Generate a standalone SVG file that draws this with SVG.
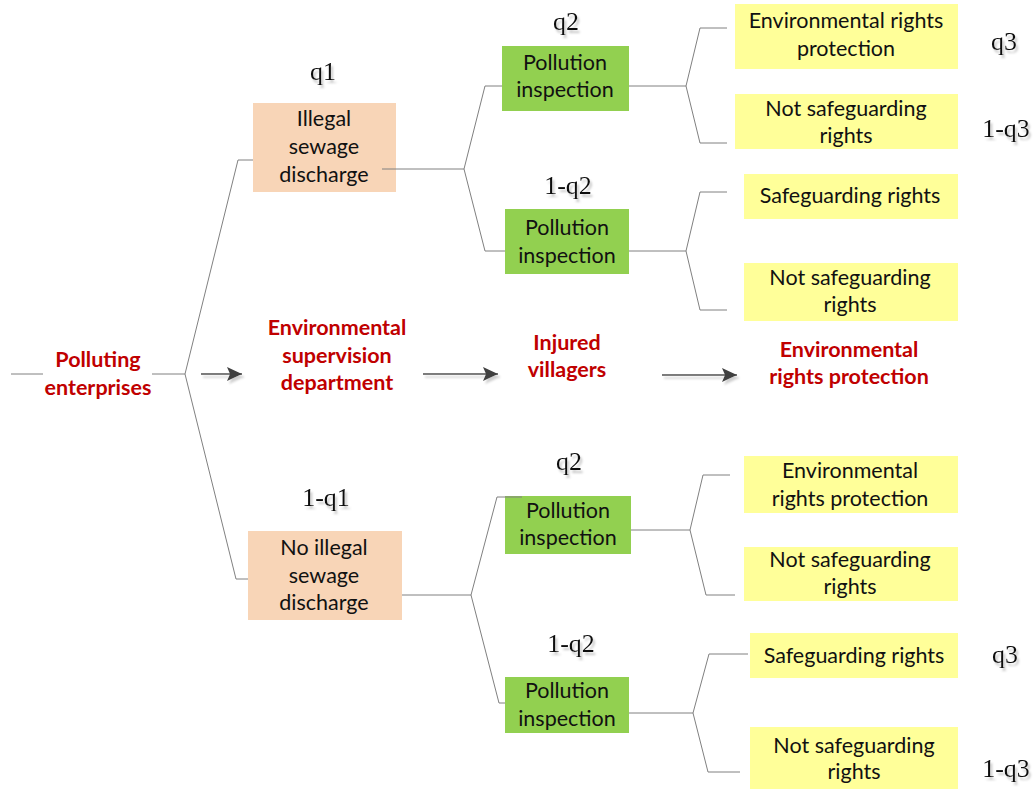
<svg xmlns="http://www.w3.org/2000/svg" width="1033" height="790" viewBox="0 0 1033 790">
<defs>
<style>
.box-o{fill:#F8D5B7}
.box-g{fill:#92D050}
.box-y{fill:#FFFF99}
.t{font-family:Lato,"Liberation Sans",sans-serif;font-size:21.5px;fill:#111;text-anchor:middle}
.r{font-family:Lato,"Liberation Sans",sans-serif;font-size:21.5px;font-weight:bold;fill:#C00000;text-anchor:middle}
.p{font-family:"Liberation Serif","Times New Roman",serif;font-size:26px;fill:#111;text-anchor:middle;filter:url(#sh)}
.c{fill:none;stroke:#808080;stroke-width:1}
.a{fill:none;stroke:#505050;stroke-width:1.3;marker-end:url(#ah)}
</style>
<filter id="sh" x="-20%" y="-20%" width="150%" height="160%">
<feDropShadow dx="2" dy="3" stdDeviation="0.8" flood-color="#c8c8c8" flood-opacity="1"/>
</filter>
<filter id="ash" filterUnits="userSpaceOnUse" x="0" y="0" width="1033" height="790">
<feDropShadow dx="2" dy="3" stdDeviation="1" flood-color="#cfcfcf" flood-opacity="1"/>
</filter>
<marker id="ah" markerWidth="16" markerHeight="14" refX="15" refY="7" orient="auto" markerUnits="userSpaceOnUse">
<path d="M0,0 L15,7 L0,14 L3,7 Z" fill="#404040"/>
</marker>
</defs>
<rect width="1033" height="790" fill="#fff"/>

<g id="root">
<text class="r" x="98" y="367">Polluting</text>
<text class="r" x="98" y="395">enterprises</text>
</g>

<g id="illegal">
<rect class="box-o" x="253" y="103" width="143" height="89"/>
<text class="t" x="324" y="126">Illegal</text>
<text class="t" x="324" y="154">sewage</text>
<text class="t" x="324" y="182">discharge</text>
</g>
<text class="p" x="323" y="80">q1</text>

<g id="noillegal">
<rect class="box-o" x="248" y="531" width="154" height="89"/>
<text class="t" x="324" y="555">No illegal</text>
<text class="t" x="324" y="583">sewage</text>
<text class="t" x="324" y="610">discharge</text>
</g>
<text class="p" x="326" y="506">1-q1</text>

<g id="insp1">
<rect class="box-g" x="502" y="46" width="127" height="65"/>
<text class="t" x="565" y="70">Pollution</text>
<text class="t" x="565" y="97">inspection</text>
</g>
<text class="p" x="566" y="30">q2</text>

<g id="insp2">
<rect class="box-g" x="505" y="209" width="124" height="65"/>
<text class="t" x="567" y="235">Pollution</text>
<text class="t" x="567" y="263">inspection</text>
</g>
<text class="p" x="568" y="194">1-q2</text>

<g id="insp3">
<rect class="box-g" x="505" y="496" width="126" height="58"/>
<text class="t" x="568" y="518">Pollution</text>
<text class="t" x="568" y="545">inspection</text>
</g>
<text class="p" x="569" y="470">q2</text>

<g id="insp4">
<rect class="box-g" x="505" y="677" width="124" height="56"/>
<text class="t" x="567" y="698">Pollution</text>
<text class="t" x="567" y="726">inspection</text>
</g>
<text class="p" x="571" y="652">1-q2</text>

<g id="y1">
<rect class="box-y" x="735" y="4" width="223" height="65"/>
<text class="t" x="846" y="28">Environmental rights</text>
<text class="t" x="846" y="56">protection</text>
</g>
<text class="p" x="1004" y="50">q3</text>

<g id="y2">
<rect class="box-y" x="735" y="94" width="223" height="55"/>
<text class="t" x="846" y="116">Not safeguarding</text>
<text class="t" x="846" y="143">rights</text>
</g>
<text class="p" x="1006" y="137">1-q3</text>

<g id="y3">
<rect class="box-y" x="744" y="174" width="214" height="45"/>
<text class="t" x="850" y="203">Safeguarding rights</text>
</g>

<g id="y4">
<rect class="box-y" x="744" y="263" width="214" height="58"/>
<text class="t" x="850" y="285">Not safeguarding</text>
<text class="t" x="850" y="312">rights</text>
</g>

<g id="y5">
<rect class="box-y" x="744" y="456" width="214" height="57"/>
<text class="t" x="850" y="478">Environmental</text>
<text class="t" x="850" y="506">rights protection</text>
</g>

<g id="y6">
<rect class="box-y" x="744" y="547" width="214" height="54"/>
<text class="t" x="850" y="567">Not safeguarding</text>
<text class="t" x="850" y="594">rights</text>
</g>

<g id="y7">
<rect class="box-y" x="750" y="633" width="208" height="45"/>
<text class="t" x="854" y="663">Safeguarding rights</text>
</g>
<text class="p" x="1005" y="663">q3</text>

<g id="y8">
<rect class="box-y" x="750" y="727" width="208" height="62"/>
<text class="t" x="854" y="753">Not safeguarding</text>
<text class="t" x="854" y="779">rights</text>
</g>
<text class="p" x="1006" y="777">1-q3</text>

<g id="dept">
<text class="r" x="337" y="335">Environmental</text>
<text class="r" x="337" y="363">supervision</text>
<text class="r" x="337" y="390">department</text>
</g>

<g id="villagers">
<text class="r" x="567" y="350">Injured</text>
<text class="r" x="567" y="377">villagers</text>
</g>

<g id="protection">
<text class="r" x="849" y="357">Environmental</text>
<text class="r" x="849" y="384">rights protection</text>
</g>

<g id="connectors">
<path class="c" d="M11,374 H43"/>
<path class="c" d="M152,374 H185"/>
<path class="c" d="M185,374 L238,160 H253"/>
<path class="c" d="M185,374 L236,579 H248"/>
<path class="c" d="M382,169 H464 L485,86 H502"/>
<path class="c" d="M464,169 L485,251 H505"/>
<path class="c" d="M629,86 H686 L700,28 H727"/>
<path class="c" d="M686,86 L700,143 H727"/>
<path class="c" d="M629,251 H686 L700,192 H727"/>
<path class="c" d="M686,251 L700,310 H727"/>
<path class="c" d="M402,595 H471 L497,497 H522"/>
<path class="c" d="M471,595 L499,703 H505"/>
<path class="c" d="M631,530 H690 L703,475 H730"/>
<path class="c" d="M690,530 L706,595 H735"/>
<path class="c" d="M629,713 H693 L709,654 H748"/>
<path class="c" d="M693,713 L708,772 H740"/>
<g filter="url(#ash)">
<path class="a" d="M201,374 H242"/>
<path class="a" d="M423,374 H498"/>
<path class="a" d="M662,375 H737"/>
</g>
</g>
</svg>
